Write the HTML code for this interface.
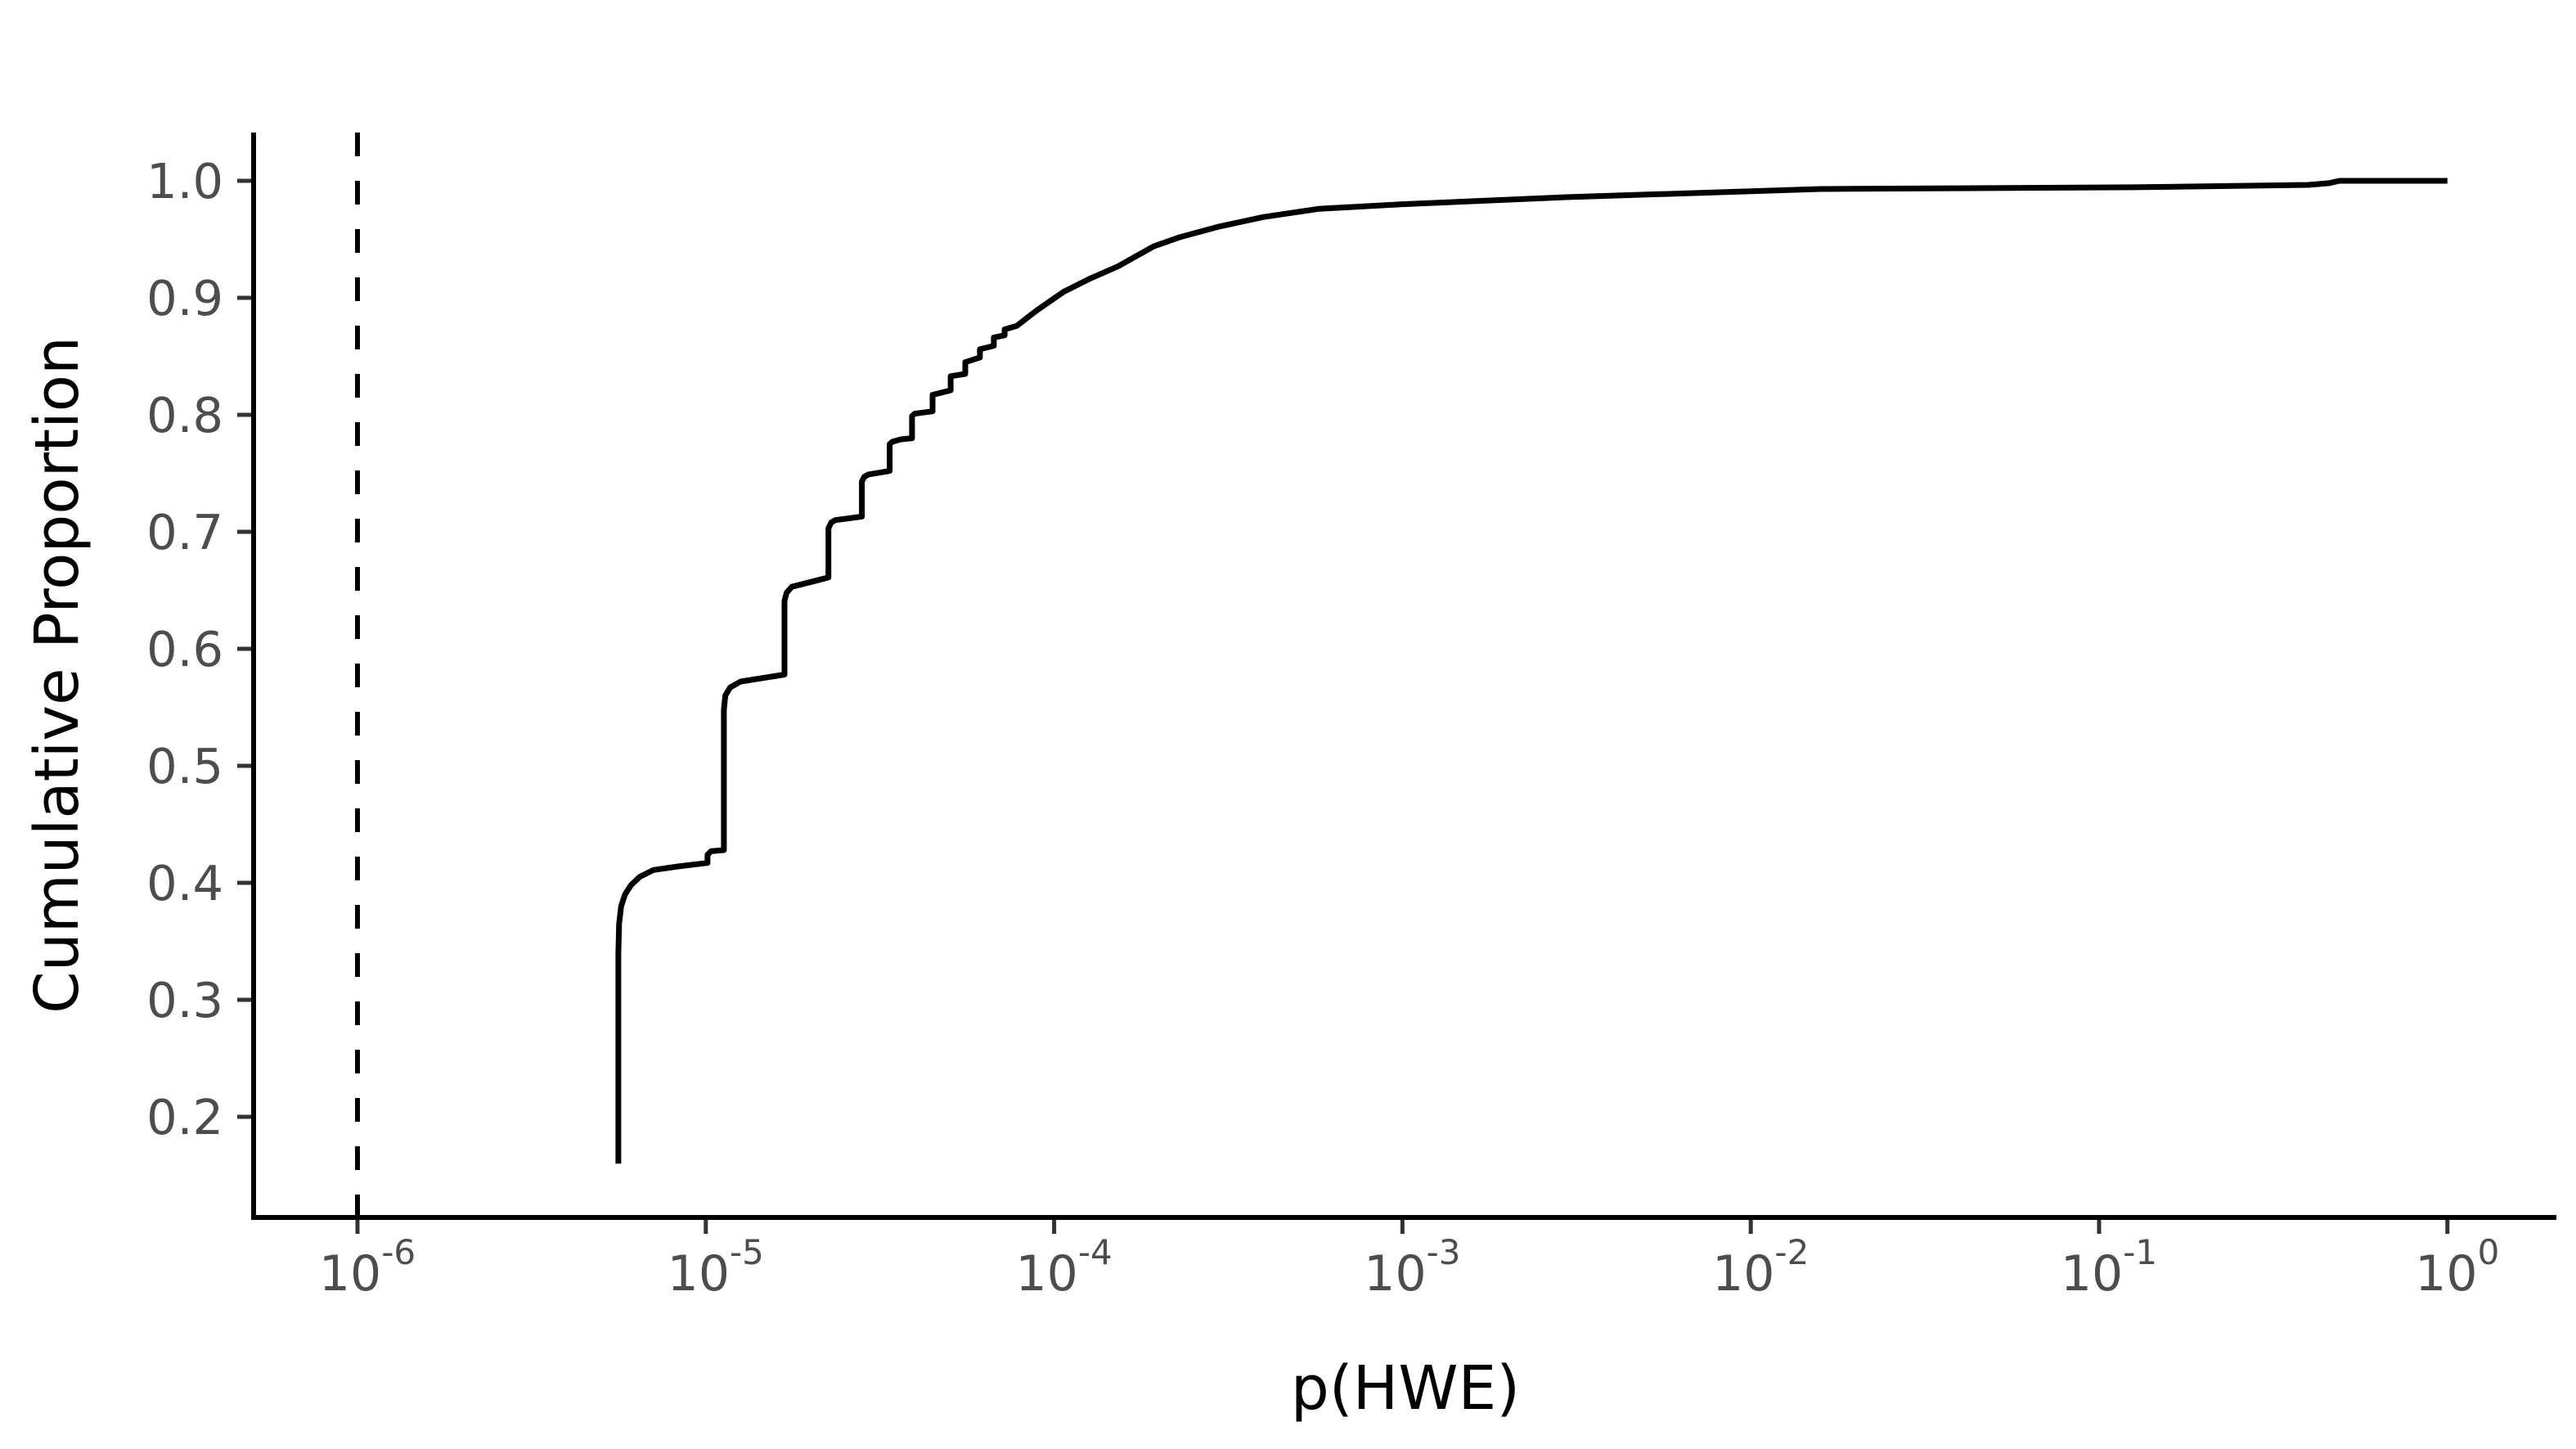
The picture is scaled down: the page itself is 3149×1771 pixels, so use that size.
<!DOCTYPE html>
<html><head><meta charset="utf-8"><style>
html,body{margin:0;padding:0;background:#fff;}
svg{display:block;font-family:"DejaVu Sans","Liberation Sans",sans-serif;}
</style></head><body>
<svg id="chart" width="3149" height="1771" viewBox="0 0 3149 1771" xmlns="http://www.w3.org/2000/svg">
<rect width="3149" height="1771" fill="#fff"/>
<g id="yticks"></g>
<g id="xticks"></g>
<line id="thresh" stroke="#000" stroke-width="6" stroke-dasharray="29,30"/>
<polyline id="curve" fill="none" stroke="#000" stroke-width="7" stroke-linejoin="round"/>
<line x1="310" y1="162" x2="310" y2="1490" stroke="#000" stroke-width="6"/>
<line x1="307" y1="1488" x2="3125" y2="1488" stroke="#000" stroke-width="6"/>
<text transform="translate(95,825) rotate(-90)" text-anchor="middle" font-size="74" fill="#000">Cumulative Proportion</text>
<text x="1718" y="1722" text-anchor="middle" font-size="74" fill="#000">p(HWE)</text>
</svg>
<script>
const logP = [-5.251,-5.251,-5.249,-5.243,-5.232,-5.215,-5.19,-5.15,-5.08,-4.995,-4.995,-4.985,-4.948,-4.948,-4.944,-4.93,-4.9,-4.774,-4.774,-4.768,-4.753,-4.648,-4.648,-4.640,-4.628,-4.552,-4.552,-4.545,-4.533,-4.472,-4.472,-4.464,-4.440,-4.408,-4.408,-4.400,-4.349,-4.349,-4.297,-4.297,-4.255,-4.255,-4.213,-4.213,-4.173,-4.173,-4.142,-4.142,-4.107,-4.051,-3.973,-3.9,-3.816,-3.714,-3.637,-3.525,-3.40,-3.241,-3.0,-2.531,-1.80,-0.9,-0.40,-0.34,-0.31,0];
const cumProp = [0.16,0.34,0.365,0.38,0.39,0.398,0.405,0.411,0.414,0.417,0.424,0.427,0.428,0.548,0.56,0.567,0.572,0.578,0.641,0.648,0.653,0.661,0.703,0.708,0.710,0.713,0.743,0.747,0.749,0.752,0.775,0.777,0.779,0.780,0.799,0.801,0.803,0.817,0.821,0.833,0.835,0.845,0.849,0.856,0.859,0.866,0.868,0.873,0.876,0.889,0.905,0.916,0.927,0.944,0.952,0.961,0.969,0.976,0.980,0.986,0.993,0.9945,0.9965,0.998,1.0,1.0];
const yTicks = [0.2,0.3,0.4,0.5,0.6,0.7,0.8,0.9,1.0];
const yTickLabels = ["0.2","0.3","0.4","0.5","0.6","0.7","0.8","0.9","1.0"];
const xTicks = [-6,-5,-4,-3,-2,-1,0];
const xTickExps = ["-6","-5","-4","-3","-2","-1","0"];
const threshold = -6;

const NS = "http://www.w3.org/2000/svg";
function xs(l){ return 437 + (l + 6) * 425.8; }
function ys(v){ return 221 + (1 - v) * 1430; }

const pts = logP.map((l,i)=> xs(l).toFixed(1)+","+ys(cumProp[i]).toFixed(1)).join(" ");
document.getElementById('curve').setAttribute('points', pts);

const th = document.getElementById('thresh');
th.setAttribute('x1', xs(threshold)); th.setAttribute('x2', xs(threshold));
th.setAttribute('y1', 162); th.setAttribute('y2', 1488);

const yg = document.getElementById('yticks');
yTicks.forEach((v,i)=>{
  const t = document.createElementNS(NS,'line');
  
  
  t.setAttribute('x1', 290); t.setAttribute('x2', 310);
  t.setAttribute('y1', ys(v)); t.setAttribute('y2', ys(v));
  t.setAttribute('stroke', '#333'); t.setAttribute('stroke-width', 5);
  yg.appendChild(t);
  const tx = document.createElementNS(NS,'text');
  
  
  tx.setAttribute('x', 273); tx.setAttribute('y', ys(v) + 21);
  tx.setAttribute('text-anchor', 'end'); tx.setAttribute('font-size', 59);
  tx.setAttribute('fill', '#4d4d4d');
  tx.textContent = yTickLabels[i];
  yg.appendChild(tx);
});

const xg = document.getElementById('xticks');
xTicks.forEach((l,i)=>{
  const x = xs(l);
  const t = document.createElementNS(NS,'line');
  
  
  t.setAttribute('x1', x); t.setAttribute('x2', x);
  t.setAttribute('y1', 1488); t.setAttribute('y2', 1508);
  t.setAttribute('stroke', '#333'); t.setAttribute('stroke-width', 5);
  xg.appendChild(t);
  const tx = document.createElementNS(NS,'text');
  
  
  tx.setAttribute('x', x + 12); tx.setAttribute('y', 1577);
  tx.setAttribute('text-anchor', 'middle'); tx.setAttribute('font-size', 60);
  tx.setAttribute('fill', '#4d4d4d');
  const b = document.createElementNS(NS,'tspan'); b.textContent = "10";
  const s = document.createElementNS(NS,'tspan'); s.textContent = xTickExps[i];
  s.setAttribute('font-size', 42); s.setAttribute('dy', -32);
  tx.appendChild(b); tx.appendChild(s);
  xg.appendChild(tx);
});
</script>
</body></html>
